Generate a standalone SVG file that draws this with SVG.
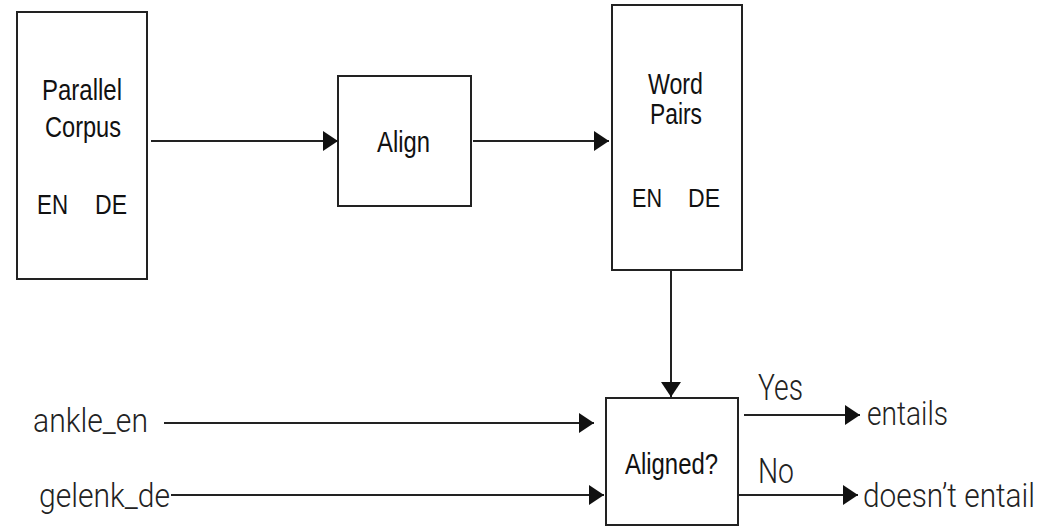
<svg xmlns="http://www.w3.org/2000/svg" width="1047" height="527" viewBox="0 0 1047 527">
  <style>
    .box { fill: #ffffff; stroke: #222222; stroke-width: 2; }
    .lbl { font-family: "Liberation Sans", Arial, sans-serif; fill: #111111; text-anchor: start; }
    .ext { font-family: Roboto, "Liberation Sans", sans-serif; font-weight: 300; fill: #222222; }
    .edge { fill: none; stroke: #222222; stroke-width: 2; }
  </style>
  <defs>
    <marker id="arrow" markerUnits="userSpaceOnUse" markerWidth="16" markerHeight="20" refX="15" refY="10" orient="auto">
      <path d="M0,0 L15,10 L0,20 Z" fill="#111111"/>
    </marker>
  </defs>
  <rect width="1047" height="527" fill="#ffffff"/>

  <!-- nodes -->
  <g id="parallel-corpus">
    <rect class="box" x="17" y="12" width="130" height="267"/>
    <text class="lbl" x="42" y="100" font-size="30" textLength="80" lengthAdjust="spacingAndGlyphs">Parallel</text>
    <text class="lbl" x="45" y="137" font-size="30" textLength="76" lengthAdjust="spacingAndGlyphs">Corpus</text>
    <text class="lbl" x="37" y="214" font-size="27" textLength="31" lengthAdjust="spacingAndGlyphs">EN</text>
    <text class="lbl" x="95" y="214" font-size="27" textLength="32" lengthAdjust="spacingAndGlyphs">DE</text>
  </g>

  <g id="align">
    <rect class="box" x="338" y="76" width="133" height="130"/>
    <text class="lbl" x="377" y="152" font-size="30" textLength="53" lengthAdjust="spacingAndGlyphs">Align</text>
  </g>

  <g id="word-pairs">
    <rect class="box" x="612" y="5" width="130" height="265"/>
    <text class="lbl" x="648" y="94" font-size="30" textLength="55" lengthAdjust="spacingAndGlyphs">Word</text>
    <text class="lbl" x="650" y="124" font-size="30" textLength="52" lengthAdjust="spacingAndGlyphs">Pairs</text>
    <text class="lbl" x="632" y="207" font-size="26" textLength="30" lengthAdjust="spacingAndGlyphs">EN</text>
    <text class="lbl" x="688" y="207" font-size="26" textLength="32" lengthAdjust="spacingAndGlyphs">DE</text>
  </g>

  <g id="aligned">
    <rect class="box" x="606" y="398" width="132" height="127"/>
    <text class="lbl" x="625" y="474" font-size="29" textLength="93" lengthAdjust="spacingAndGlyphs">Aligned?</text>
  </g>

  <g id="inputs">
    <text class="ext" x="33" y="432" font-size="34" textLength="115" lengthAdjust="spacingAndGlyphs">ankle_en</text>
    <text class="ext" x="39" y="507" font-size="34" textLength="131" lengthAdjust="spacingAndGlyphs">gelenk_de</text>
  </g>

  <g id="outputs">
    <text class="ext" x="758" y="400" font-size="37" textLength="45" lengthAdjust="spacingAndGlyphs">Yes</text>
    <text class="ext" x="867" y="425" font-size="34" textLength="81" lengthAdjust="spacingAndGlyphs">entails</text>
    <text class="ext" x="758" y="483" font-size="35" textLength="36" lengthAdjust="spacingAndGlyphs">No</text>
    <text class="ext" x="863" y="507" font-size="34" textLength="172" lengthAdjust="spacingAndGlyphs">doesn’t entail</text>
  </g>

  <!-- connectors -->
  <g id="connectors">
    <line class="edge" x1="151" y1="141" x2="338" y2="141" marker-end="url(#arrow)"/>
    <line class="edge" x1="473" y1="141" x2="609" y2="141" marker-end="url(#arrow)"/>
    <line class="edge" x1="671" y1="270" x2="671" y2="397" marker-end="url(#arrow)"/>
    <line class="edge" x1="164" y1="423" x2="594" y2="423" marker-end="url(#arrow)"/>
    <line class="edge" x1="171" y1="495" x2="604" y2="495" marker-end="url(#arrow)"/>
    <line class="edge" x1="744" y1="415" x2="860" y2="415" marker-end="url(#arrow)"/>
    <line class="edge" x1="738" y1="495" x2="858" y2="495" marker-end="url(#arrow)"/>
  </g>
</svg>
